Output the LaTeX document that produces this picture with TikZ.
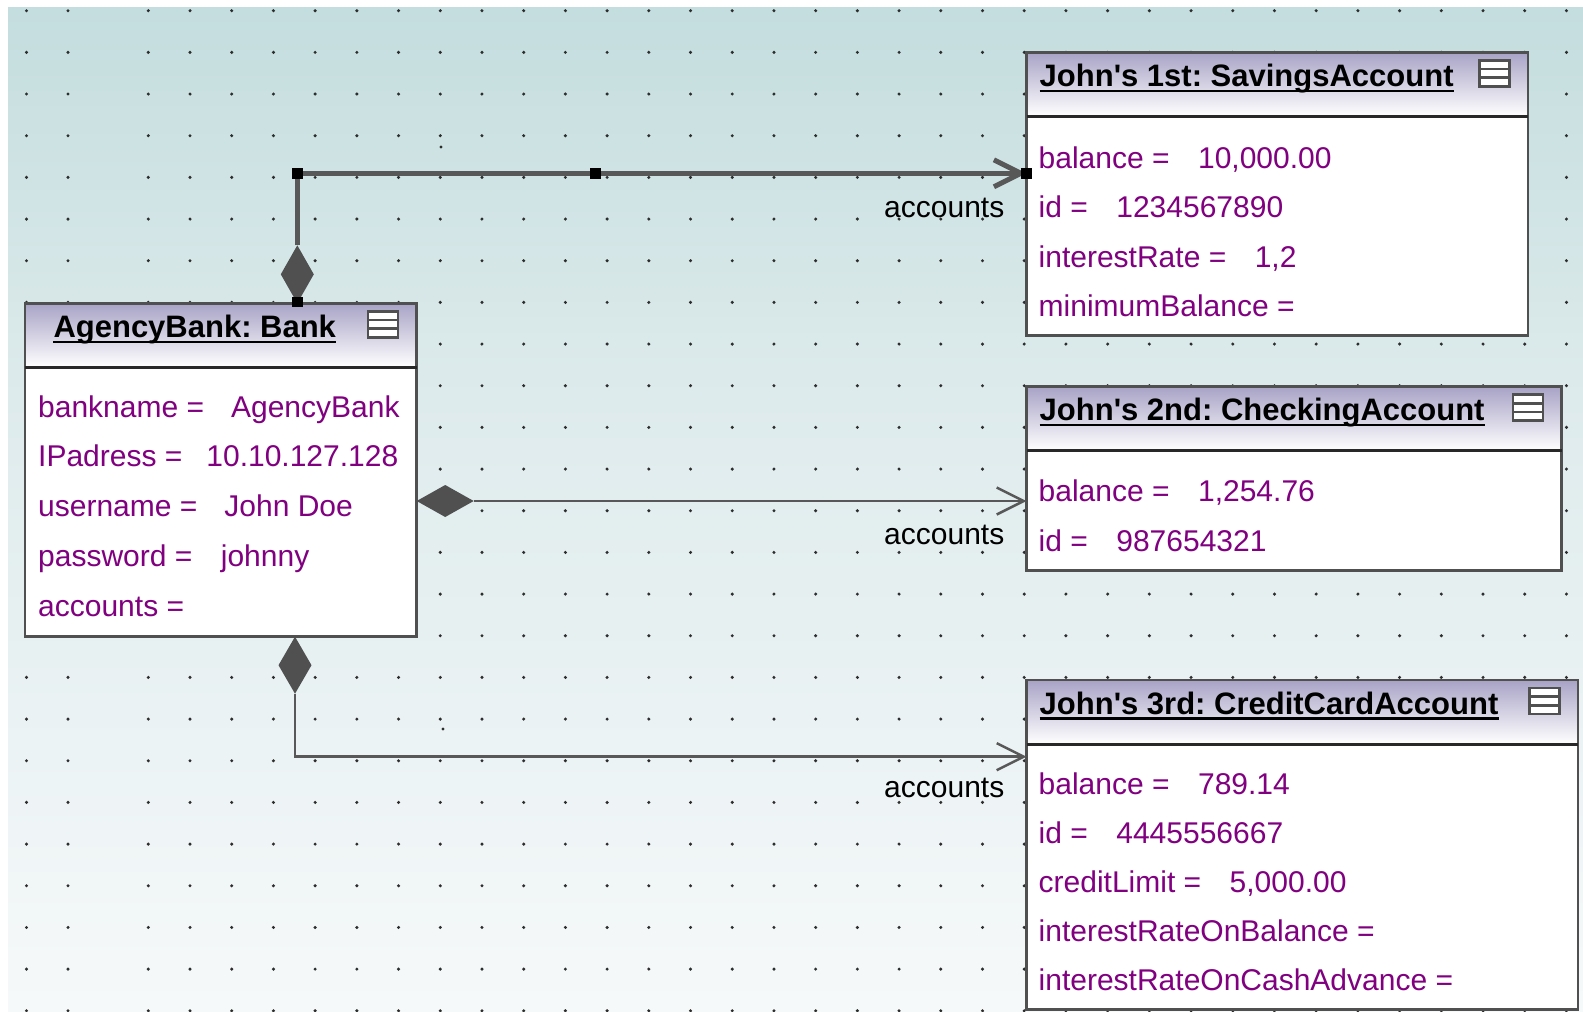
\documentclass[tikz,border=0pt]{standalone}
\usepackage{fontspec}
\setmainfont{Liberation Sans}
\usetikzlibrary{arrows.meta,calc}
\frenchspacing
\definecolor{bgtop}{RGB}{196,221,222}
\definecolor{bgmid}{RGB}{222,235,236}
\definecolor{bgbot}{RGB}{246,249,250}
\definecolor{hdrtop}{RGB}{168,163,198}
\definecolor{attrc}{RGB}{128,0,128}
\definecolor{framec}{RGB}{80,80,80}
\definecolor{sepc}{RGB}{40,40,40}
\definecolor{connc}{RGB}{88,88,88}
\definecolor{diac}{RGB}{80,80,80}
\definecolor{dotc}{RGB}{45,45,45}
\tikzset{
 umlbox/.style={rectangle, fill=white, draw=none, inner sep=0pt, outer sep=0pt, anchor=north west},
 frameline/.style={draw=framec, line width=2.5pt},
 sepline/.style={draw=sepc, line width=3pt},
 iconline/.style={draw=framec, line width=2.5pt},
 titletext/.style={inner sep=0pt, anchor=base west, font=\fontsize{31pt}{37pt}\selectfont\bfseries\frenchspacing, text=black},
 attrtext/.style={inner sep=0pt, anchor=base west, font=\fontsize{30pt}{36pt}\selectfont, text=attrc},
 lbltext/.style={inner sep=0pt, anchor=base east, font=\fontsize{30pt}{36pt}\selectfont, text=black},
 uline/.style={draw=black, line width=2.5pt},
 connthin/.style={draw=connc, line width=2.5pt},
 connthick/.style={draw=connc, line width=5pt},
 barb/.style={-{Straight Barb[length=27pt,width=27pt]}},
 dia/.style={fill=diac},
 handlebox/.style={fill=black},
}
\newcommand\umlframe[1]{%
 \shade[top color=hdrtop, bottom color=white] (#1.north west) rectangle ($(#1.north east)+(0,64)$);
 \draw[frameline] (#1.north west) rectangle (#1.south east);
 \draw[sepline] ($(#1.north west)+(0,64)$) -- ($(#1.north east)+(0,64)$);
 \draw[iconline, fill=white] ($(#1.north east)+(-48.5,8)$) rectangle ($(#1.north east)+(-18.5,34)$);
 \draw[iconline] ($(#1.north east)+(-48.5,16.7)$) -- ($(#1.north east)+(-18.5,16.7)$);
 \draw[iconline] ($(#1.north east)+(-48.5,25.3)$) -- ($(#1.north east)+(-18.5,25.3)$);
}
\newcommand\umltitle[3]{%
 \node[titletext] (#1) at (#2) {#3};
 \draw[uline] ([yshift=-4.5pt]#1.base west) -- ([yshift=-4.5pt]#1.base east);
}
\begin{document}
\begin{tikzpicture}[x=1pt,y=-1pt]
\useasboundingbox (0,0) rectangle (1583,1012);
\fill[white] (0,0) rectangle (1583,1012);
\shade[top color=bgtop, bottom color=bgmid] (8,7) rectangle (1583,400);
\shade[top color=bgmid, bottom color=bgbot] (8,399.5) rectangle (1583,1012);

% grid dots
\foreach \r in {0,...,24}{
  \pgfmathsetmacro\yy{10.7+41.67*\r}
  \foreach \xx in {26.5,68}{\fill[dotc] (\xx,\yy) circle[radius=1.7];}
  \foreach \k in {0,...,34}{\pgfmathsetmacro\xx{148.3+41.71*\k}\fill[dotc] (\xx,\yy) circle[radius=1.7];}
}
\fill[dotc] (441,147) circle[radius=1.7];
\fill[dotc] (443,729) circle[radius=1.7];

% boxes
\node[umlbox, minimum width=391.7pt, minimum height=333.4pt] (bank) at (25,303.3) {};
\node[umlbox, minimum width=501.5pt, minimum height=283.2pt] (sav) at (1026.5,52.3) {};
\node[umlbox, minimum width=535pt, minimum height=184pt] (chk) at (1026.5,386.7) {};
\node[umlbox, minimum width=551.5pt, minimum height=329.5pt] (cc) at (1026.5,680) {};
\umlframe{bank}
\umlframe{sav}
\umlframe{chk}
\umlframe{cc}

% titles
\umltitle{bankT}{53.3,337.3}{AgencyBank: Bank}
\umltitle{savT}{1039.5,86.3}{John\textquotesingle s 1st: SavingsAccount}
\umltitle{chkT}{1039.5,420.7}{John\textquotesingle s 2nd: CheckingAccount}
\umltitle{ccT}{1039.5,714}{John\textquotesingle s 3rd: CreditCardAccount}

% attributes
\node[attrtext] (b1) at (38,417) {bankname =\hspace{0.9em}AgencyBank};
\node[attrtext] (b2) at (38,466.8) {IPadress =\hspace{0.8em}10.10.127.128};
\node[attrtext] (b3) at (38,516.5) {username =\hspace{0.9em}John Doe};
\node[attrtext] (b4) at (38,566.3) {password =\hspace{0.95em}johnny};
\node[attrtext] (b5) at (38,616) {accounts =};

\node[attrtext] (s1) at (1038.5,168) {balance =\hspace{0.95em}10,000.00};
\node[attrtext] (s2) at (1038.5,217.5) {id =\hspace{0.95em}1234567890};
\node[attrtext] (s3) at (1038.5,267.3) {interestRate =\hspace{0.95em}1,2};
\node[attrtext] (s4) at (1038.5,316.8) {minimumBalance =};

\node[attrtext] (k1) at (1038.5,501.5) {balance =\hspace{0.95em}1,254.76};
\node[attrtext] (k2) at (1038.5,551.2) {id =\hspace{0.95em}987654321};

\node[attrtext] (c1) at (1038.5,794) {balance =\hspace{0.95em}789.14};
\node[attrtext] (c2) at (1038.5,843.3) {id =\hspace{0.95em}4445556667};
\node[attrtext] (c3) at (1038.5,892.5) {creditLimit =\hspace{0.95em}5,000.00};
\node[attrtext] (c4) at (1038.5,941.5) {interestRateOnBalance =};
\node[attrtext] (c5) at (1038.5,990.5) {interestRateOnCashAdvance =};

% connector 1 (top, selected)
\coordinate (t0) at ($(bank.north west)+(272.3,0)$);
\coordinate (t1) at ($(t0)+(0,-58)$);
\coordinate (t2) at (297.3,173.3);
\coordinate (t3) at (t2 -| sav.west);
\fill[dia] (t0) -- ($(t0)+(16.5,-29)$) -- (t1) -- ($(t0)+(-16.5,-29)$) -- cycle;
\draw[connthick, barb] (t1) -- (t2) -- (t3);
\node[lbltext] (l1) at (1004.5,217) {accounts};

% connector 2 (middle)
\coordinate (m0) at (bank.east |- 0,501);
\coordinate (m1) at ($(m0)+(57,0)$);
\coordinate (m2) at (chk.west |- m0);
\fill[dia] (m0) -- ($(m0)+(28.5,-16)$) -- (m1) -- ($(m0)+(28.5,16)$) -- cycle;
\draw[connthin, barb] (m1) -- (m2);
\node[lbltext] (l2) at (1004.5,544) {accounts};

% connector 3 (bottom)
\coordinate (u0) at ($(bank.south west)+(270,0)$);
\coordinate (u1) at ($(u0)+(0,57)$);
\coordinate (u2) at (295,756.7);
\coordinate (u3) at (u2 -| cc.west);
\fill[dia] (u0) -- ($(u0)+(16.5,28.5)$) -- (u1) -- ($(u0)+(-16.5,28.5)$) -- cycle;
\draw[connthin, barb] (u1) -- (u2) -- (u3);
\node[lbltext] (l3) at (1004.5,797) {accounts};

% selection handles
\fill[handlebox] ($(t2)+(-5.5,-5.5)$) rectangle ++(11,11);
\fill[handlebox] (590.3,168.3) rectangle ++(11,11);
\fill[handlebox] ($(t3)+(-6,-5)$) rectangle ++(11,11);
\fill[handlebox] ($(t0)+(-5.5,-6.5)$) rectangle ++(11,10);
\end{tikzpicture}
\end{document}
